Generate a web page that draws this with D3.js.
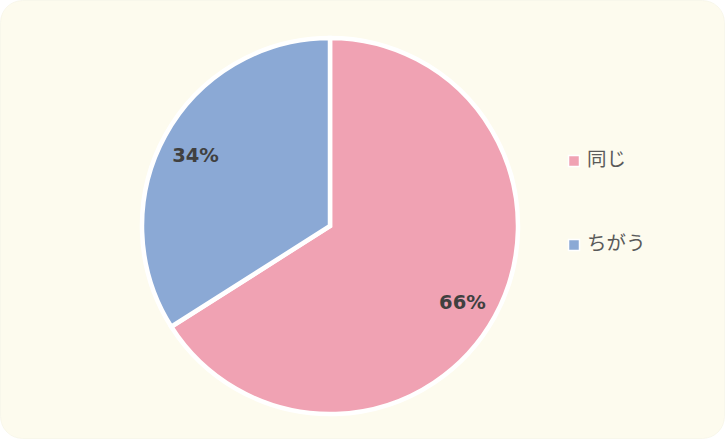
<!DOCTYPE html>
<html><head><meta charset="utf-8">
<script src="https://cdn.jsdelivr.net/npm/d3@7"></script>
<style>html,body{margin:0;padding:0;background:#fff}</style>
</head><body>
<svg id="c" width="725" height="439"></svg>
<script>
const categories = ["同じ", "ちがう"];
const values = [66, 34];
const colors = ["#F0A2B3", "#8BA9D5"];

const svg = d3.select("#c");
svg.append("rect").attr("x",0.5).attr("y",0.5).attr("width",724).attr("height",438)
  .attr("rx",22).attr("fill","#FDFBEE").attr("stroke","#F3F0E0").attr("stroke-width",0.5);

const cx = 330, cy = 226, R = 188;
const pie = d3.pie().sort(null).value(d=>d)(values);
const arc = d3.arc().innerRadius(0).outerRadius(R);
const labelArc = d3.arc().innerRadius(R*0.81).outerRadius(R*0.81);
const g = svg.append("g").attr("transform",`translate(${cx},${cy})`);
g.selectAll("path").data(pie).join("path")
  .attr("d",arc).attr("fill",(d,i)=>colors[i])
  .attr("stroke","#fff").attr("stroke-width",4.5).attr("stroke-linejoin","miter");
const total = d3.sum(values);
g.selectAll("text").data(pie).join("text")
  .attr("transform",d=>{const c=labelArc.centroid(d);return `translate(${c[0]-1},${c[1]+3})`;})
  .attr("text-anchor","middle").attr("dy","0.35em")
  .attr("font-family","'DejaVu Sans', Verdana, sans-serif").attr("font-weight","bold")
  .attr("font-size",19.5).attr("fill","#404040")
  .text(d=>Math.round(d.value/total*100)+"%");

const leg = svg.append("g");
const ly = d3.scalePoint().domain(categories).range([161,245]);
categories.forEach((c,i)=>{
  leg.append("rect").attr("x",568.5).attr("y",ly(c)-5.5).attr("width",11).attr("height",11)
    .attr("fill",colors[i]).attr("stroke","#fff").attr("stroke-width",1.5);
  leg.append("text").attr("x",587).attr("y",ly(c)-2).attr("dy","0.35em")
    .attr("font-family","'Noto Sans CJK JP', sans-serif").attr("font-size",19.5)
    .attr("fill","#595959").text(c);
});
</script>
</body></html>
